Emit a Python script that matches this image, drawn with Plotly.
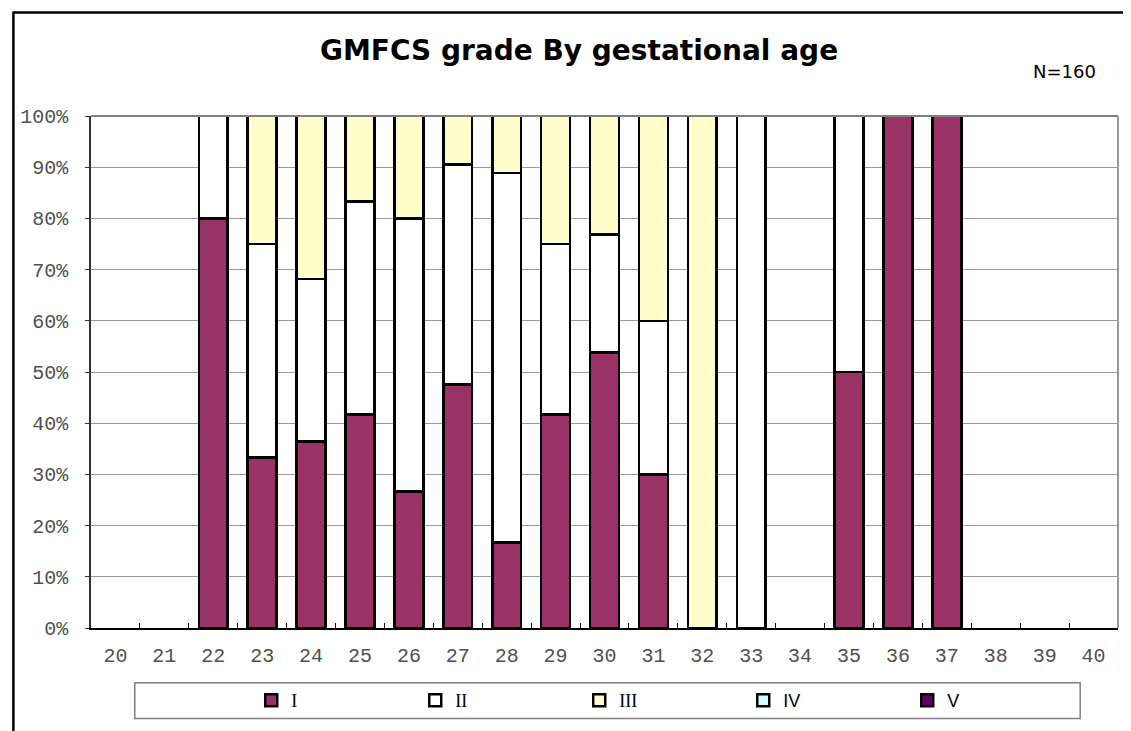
import plotly.graph_objects as go

weeks = [str(w) for w in range(20, 41)]
grade_I   = [None, None, 80.0, 33.3, 36.4, 41.7, 26.7, 47.6, 16.7, 41.7, 53.8, 30.0, None, None, None, 50.0, 100.0, 100.0, None, None, None]
grade_II  = [None, None, 20.0, 41.7, 31.8, 41.6, 53.3, 42.9, 72.2, 33.3, 23.1, 30.0, None, 100.0, None, 50.0, None, None, None, None, None]
grade_III = [None, None, None, 25.0, 31.8, 16.7, 20.0, 9.5, 11.1, 25.0, 23.1, 40.0, 100.0, None, None, None, None, None, None, None, None]
grade_IV  = [None] * 21
grade_V   = [None] * 21

series = [
    ('<span style="font-family:Liberation Serif">I</span>', grade_I, "#993366"),
    ('<span style="font-family:Liberation Serif">II</span>', grade_II, "#FFFFFF"),
    ('<span style="font-family:Liberation Serif">III</span>', grade_III, "#FFFFCC"),
    ("IV", grade_IV, "#CCFFFF"),
    ("V", grade_V, "#660066"),
]
yticks = [0, 10, 20, 30, 40, 50, 60, 70, 80, 90, 100]
ytick_labels = [f"{v}%" for v in yticks]

fig = go.Figure()
for name, vals, col in series:
    fig.add_trace(go.Bar(x=weeks, y=vals, name=name,
                         marker=dict(color=col, line=dict(color="#000000", width=2.5))))

# page body has an 8px margin; figure sized to fit the 1131x731 window
OFF = 8
W, H = 1131 - OFF, 731 - OFF
PL, PR, PT, PB = 86, 1118, 116, 631      # plot area in screen pixels
L, T = PL - OFF, PT - OFF
R, B = W - (PR - OFF), H - (PB - OFF)
pw, ph = PR - PL, PB - PT
def px(x):
    return (x - PL) / pw
def py(y):
    return (PB - y) / ph

fig.update_layout(
    width=W, height=H,
    margin=dict(l=L, r=R, t=T, b=B),
    paper_bgcolor="white", plot_bgcolor="white",
    barmode="stack", bargap=0.41,
    showlegend=True,
    legend=dict(orientation="h", x=px(247), y=py(704), xanchor="left", yanchor="middle",
                entrywidth=119, entrywidthmode="pixels",
                font=dict(family="Liberation Sans, DejaVu Sans", size=18, color="#000000"),
                bgcolor="rgba(0,0,0,0)", traceorder="normal"),
    xaxis=dict(type="category", categoryorder="array", categoryarray=weeks,
               showline=True, linecolor="#000000", linewidth=2,
               ticks="inside", tickson="boundaries", ticklen=5, tickcolor="#000000", tickwidth=1,
               ticklabelstandoff=8,
               tickfont=dict(family="Liberation Mono, Courier New, monospace", size=20, color="#505050"),
               showgrid=False, zeroline=False, fixedrange=True),
    yaxis=dict(range=[0, 100], tickvals=yticks, ticktext=ytick_labels,
               showline=True, linecolor="#333333", linewidth=1.5,
               ticks="outside", ticklen=4, tickcolor="#333333",
               ticklabelstandoff=13,
               tickfont=dict(family="Liberation Mono, Courier New, monospace", size=20, color="#505050"),
               showgrid=True, gridcolor="#999999", gridwidth=1, zeroline=False, fixedrange=True),
    font=dict(family="DejaVu Sans"),
    shapes=[
        # plot area border (top/right)
        dict(type="line", xref="paper", yref="paper", x0=0, x1=1, y0=1, y1=1,
             line=dict(color="#808080", width=2), layer="above"),
        dict(type="line", xref="paper", yref="paper", x0=1, x1=1, y0=0, y1=1,
             line=dict(color="#999999", width=2), layer="above"),
        # legend box
        dict(type="rect", xref="paper", yref="paper", x0=px(130), x1=px(1080), y0=py(722), y1=py(686),
             line=dict(color="#808080", width=1.5), fillcolor="rgba(0,0,0,0)", layer="below"),
        # outer chart frame (top/left)
        dict(type="line", xref="paper", yref="paper", x0=px(8), x1=px(1140), y0=py(12), y1=py(12),
             line=dict(color="#000000", width=2.5)),
        dict(type="line", xref="paper", yref="paper", x0=px(8), x1=px(8), y0=py(11), y1=py(740),
             line=dict(color="#000000", width=2.5)),
    ],
    annotations=[
        dict(text="<b>GMFCS grade By gestational age</b>", xref="paper", yref="paper",
             x=px(576), y=py(50), xanchor="center", yanchor="middle", showarrow=False,
             font=dict(family="DejaVu Sans", size=28, color="#000000")),
        dict(text="N=160", xref="paper", yref="paper",
             x=px(1064), y=py(71), xanchor="center", yanchor="middle", showarrow=False,
             font=dict(family="DejaVu Sans", size=18, color="#000000")),
    ],
)

fig.write_html("out.html")
